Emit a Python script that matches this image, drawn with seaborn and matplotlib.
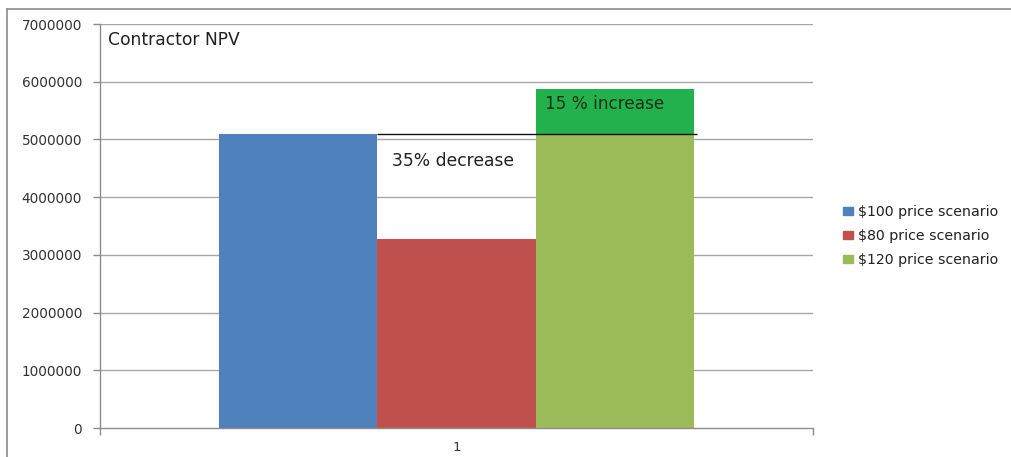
import matplotlib
matplotlib.use("Agg")
import matplotlib.pyplot as plt
from matplotlib.lines import Line2D
import seaborn as sns
import pandas as pd

# Contractor NPV under three oil price scenarios
categories = ["1", "1", "1"]
scenarios = ["$100 price scenario", "$80 price scenario", "$120 price scenario"]
npv_values = [5090000, 3270000, 5870000]
y_ticks = [0, 1000000, 2000000, 3000000, 4000000, 5000000, 6000000, 7000000]
colors = ["#4f81bd", "#c0504d", "#9bbb59"]
increase_color = "#22b14c"

df = pd.DataFrame({"category": categories, "scenario": scenarios, "npv": npv_values})

sns.set_style("white")
plt.rcParams["font.family"] = ["DejaVu Sans"]

fig = plt.figure(figsize=(10.11, 4.57), dpi=100)
ax = fig.add_axes([100 / 1011, 29 / 457, 713 / 1011, 404 / 457])

# horizontal gridlines behind the bars
for t in y_ticks[1:]:
    ax.axhline(t, color="#a6a6a6", lw=1.0, zorder=0)

sns.barplot(data=df, x="category", y="npv", hue="scenario", hue_order=scenarios,
            palette=colors, width=0.667, saturation=1, ax=ax, legend=False,
            edgecolor="none", linewidth=0, zorder=2)

bars = [p for p in ax.patches]
base_bar, low_bar, high_bar = bars[0], bars[1], bars[2]

# highlight the gain of the high-price scenario above the base case
ax.bar(high_bar.get_x(), npv_values[2] - npv_values[0], width=high_bar.get_width(),
       bottom=npv_values[0], align="edge", color=increase_color, zorder=3, linewidth=0)

# reference line at the base-case NPV
ax.hlines(npv_values[0], low_bar.get_x(),
          high_bar.get_x() + high_bar.get_width() * 1.02,
          colors="#111111", lw=1.0, zorder=4)

ax.text(low_bar.get_x() + low_bar.get_width() * 0.09, 4630000, "35% decrease",
        fontsize=12.3, color="#222222", va="center", ha="left", zorder=5)
ax.text(high_bar.get_x() + high_bar.get_width() * 0.06, 5610000, "15 % increase",
        fontsize=12.2, color="#143214", va="center", ha="left", zorder=5)
ax.text(-0.489, 6720000, "Contractor NPV", fontsize=12.3, color="#222222",
        va="center", ha="left", zorder=5)

ax.set_xlim(-0.5, 0.5)
ax.set_ylim(0, 7000000)
ax.set_yticks(y_ticks)
ax.set_yticklabels([str(t) for t in y_ticks], fontsize=9.8, color="#333333")
ax.set_xticks([0])
ax.set_xticklabels(["1"], fontsize=9.5, color="#333333")
ax.set_xlabel("")
ax.set_ylabel("")

for side in ["top", "right"]:
    ax.spines[side].set_visible(False)
for side in ["left", "bottom"]:
    ax.spines[side].set_color("#8c8c8c")
    ax.spines[side].set_linewidth(1.0)
ax.tick_params(axis="y", which="both", left=True, length=5, width=1.0,
               color="#8c8c8c", pad=8)
ax.tick_params(axis="x", which="both", bottom=False, pad=6)
# category boundary ticks on the x axis
ax.set_xticks([-0.5, 0.5], minor=True)
ax.tick_params(axis="x", which="minor", bottom=True, length=5, width=1.0,
               color="#8c8c8c")

handles = [plt.Rectangle((0, 0), 1, 1, color=c) for c in colors]
leg = fig.legend(handles, scenarios, loc="center left",
                 bbox_to_anchor=(830 / 1011, 1 - 236 / 457), frameon=False,
                 fontsize=10.2, handlelength=0.7, handleheight=0.5,
                 handletextpad=0.4, labelspacing=0.72)
for txt in leg.get_texts():
    txt.set_color("#222222")

# outer chart frame
fig.add_artist(Line2D([7 / 1011, 1.0], [1 - 9 / 457, 1 - 9 / 457],
                      transform=fig.transFigure, color="#8c8c8c", lw=1.2))
fig.add_artist(Line2D([7 / 1011, 7 / 1011], [0, 1 - 9 / 457],
                      transform=fig.transFigure, color="#8c8c8c", lw=1.2))

fig.savefig("out.png", dpi=100)
